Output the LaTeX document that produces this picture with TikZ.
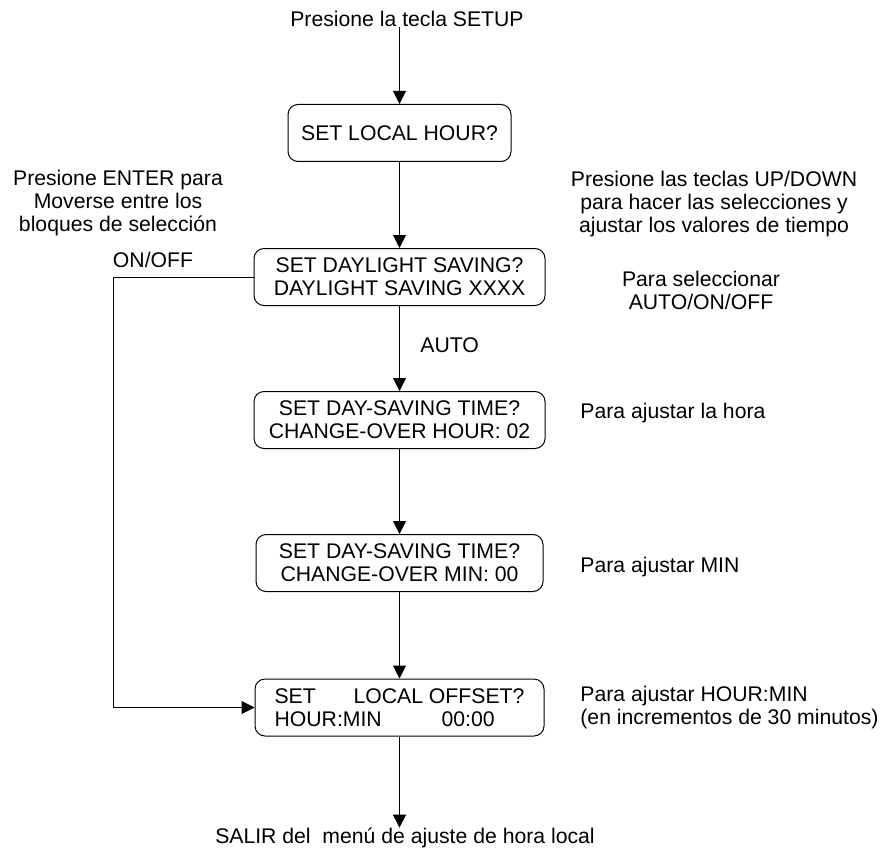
\documentclass[tikz,border=0pt]{standalone}
\usepackage{fontspec}
\setmainfont{Liberation Sans}
\usetikzlibrary{positioning}
\usetikzlibrary{arrows.meta}

\begin{document}
\begin{tikzpicture}[x=0.5pt,y=-0.5pt,
    every node/.style={font=\fontsize{10.6}{11.5}\selectfont,inner sep=0pt},
    box/.style={draw,line width=0.5pt,rounded corners=5pt,minimum width=145.5pt,
        minimum height=28.5pt,align=center},
    flow/.style={-{Triangle[length=6.5pt,width=6.5pt]},line width=0.5pt}]

    \useasboundingbox (0,0) rectangle (881,850);

    % menu blocks
    \node (setup) at (407,19) {Presione la tecla SETUP};
    \node[box,minimum width=111.5pt] (hour) at (399.5,133) {SET LOCAL HOUR?};
    \node[box] (saving) at (399.5,277) {SET DAYLIGHT SAVING?\\DAYLIGHT SAVING XXXX};
    \node[box] (change) at (399.5,420) {SET DAY-SAVING TIME?\\CHANGE-OVER HOUR: 02};
    \node[box,minimum width=143.5pt] (min) at (399.5,563) {SET DAY-SAVING TIME?\\CHANGE-OVER MIN: 00};
    \node[box,minimum width=144.5pt,align=left] (offset) at (399.5,707.5)
        {\makebox[39.5pt][l]{SET}LOCAL OFFSET?\\\makebox[83.5pt][l]{HOUR:MIN}00:00};
    \node (exit) at (405,838) {SALIR del\ \ menú de ajuste de hora local};

    % side notes
    \node[align=center] (enter) at (118,203) {Presione ENTER para\\Moverse entre los\\bloques de selección};
    \node (onoff) at (153,260) {ON/OFF};
    \node[align=center] (updown) at (714,204) {Presione las teclas UP/DOWN\\para hacer las selecciones y\\ajustar los valores de tiempo};
    \node[align=center] (select) at (701,290) {Para seleccionar\\AUTO/ON/OFF};
    \node[anchor=west] (auto) at (420,345) {AUTO};
    \node[anchor=west] (hora) at (580,413) {Para ajustar la hora};
    \node[anchor=west] (minnote) at (580,567) {Para ajustar MIN};
    \node[anchor=west,align=left] (hhmm) at (580,708) {Para ajustar HOUR:MIN\\(en incrementos de 30 minutos)};

    \draw[flow] (hour.north |- setup.south) -- (hour);
    \draw[flow] (hour) -- (saving);
    \draw[flow] (saving) -- (change);
    \draw[flow] (change) -- (min);
    \draw[flow] (min) -- (offset);
    \draw[flow] (offset) -- (offset.south |- exit.north);
    \draw[flow] (saving.west) -- ++(-140,0) |- (offset.west);

\end{tikzpicture}
\end{document}
